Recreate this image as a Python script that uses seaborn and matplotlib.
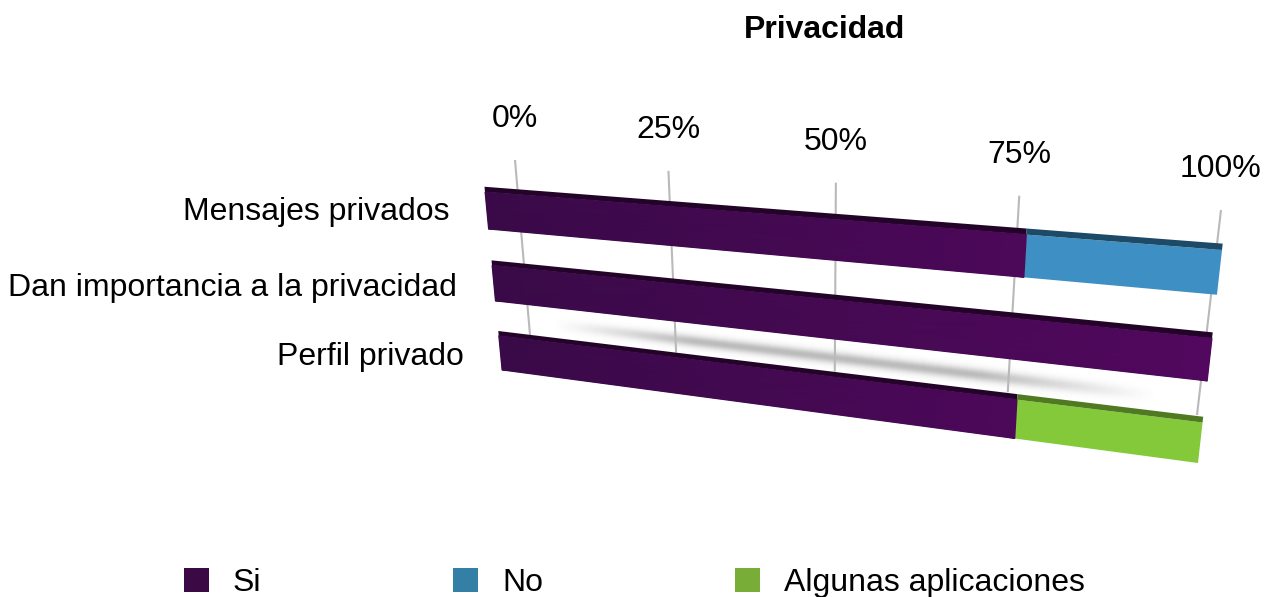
import numpy as np
import matplotlib
matplotlib.use('Agg')
import matplotlib.pyplot as plt
import seaborn as sns
from matplotlib.colors import LinearSegmentedColormap
from matplotlib.patches import Patch
from matplotlib.transforms import Transform

titulo = 'Privacidad'
categorias = ['Mensajes privados', 'Dan importancia a la privacidad', 'Perfil privado']
series = ['Si', 'No', 'Algunas aplicaciones']
si = np.array([77.3, 100, 77.3])
no = np.array([22.7, 0, 0])
algunas = np.array([0, 0, 22.7])
ticks = [0, 25, 50, 75, 100]
tick_labels = ['0%', '25%', '50%', '75%', '100%']

W, H = 1272, 597
FS = 23  # ~32 px
PX = 0.72  # pixeles a puntos


class Persp(Transform):
    # homografia: (x, y) de datos -> pixeles de pantalla
    input_dims = 2
    output_dims = 2

    def __init__(self, src, dst):
        super().__init__()
        A, b = [], []
        for (x, y), (u, v) in zip(src, dst):
            v = H - v
            A.append([x, y, 1, 0, 0, 0, -u * x, -u * y])
            A.append([0, 0, 0, x, y, 1, -v * x, -v * y])
            b += [u, v]
        self.m = np.append(np.linalg.solve(np.array(A, float), np.array(b, float)), 1).reshape(3, 3)

    def transform_non_affine(self, values):
        v = np.asarray(values, float)
        p = np.c_[v, np.ones(len(v))] @ self.m.T
        return p[:, :2] / p[:, 2:]


sns.set_theme(style='white')
plt.rcParams['font.family'] = ['Liberation Sans', 'DejaVu Sans']

fig = plt.figure(figsize=(W / 100, H / 100), dpi=100)
ax = fig.add_axes([0, 0, 1, 1])

# plano de las barras y plano de la rejilla
t_bar = Persp([(0, -0.25), (100, -0.25), (0, 2.25), (100, 2.25)],
              [(485, 192), (1222, 250), (502, 370), (1198, 463)])
t_wall = Persp([(0, 0), (100, 0), (0, 1), (100, 1)],
               [(515, 160), (1221, 210), (530, 335), (1197, 415)])

# barras apiladas
sns.barplot(x=si, y=categorias, order=categorias, orient='h', width=0.5, color='#470a58',
            saturation=1, errorbar=None, ax=ax, linewidth=0, zorder=5)
sns.barplot(x=no, y=categorias, order=categorias, orient='h', width=0.5, left=si, color='#3e8fc4',
            saturation=1, errorbar=None, ax=ax, linewidth=0, zorder=5)
sns.barplot(x=algunas, y=categorias, order=categorias, orient='h', width=0.5, left=si + no, color='#84c93a',
            saturation=1, errorbar=None, ax=ax, linewidth=0, zorder=5)

# cara superior oscura
pos = np.arange(len(categorias))
for vals, left, c in [(si, 0 * si, '#230428'), (no, si, '#1d4a66'), (algunas, si + no, '#4f7a22')]:
    ax.barh(pos - 0.285, vals, left=left, height=0.07, color=c, linewidth=0, zorder=5)

for p in ax.patches:
    p.set_transform(t_bar)
    p.set_clip_on(False)

# degradado del morado
cm_si = LinearSegmentedColormap.from_list('si', ['#3a0a48', '#52085f'])
for i, v in enumerate(si):
    X = np.array([0, v])
    ax.pcolormesh(X, [i - 0.25, i + 0.25], np.array([[0, v / 100], [0, v / 100]]), cmap=cm_si, vmin=0, vmax=1,
                  shading='gouraud', transform=t_bar, zorder=6, clip_on=False)

# sombra entre las barras 2 y 3
sx = np.linspace(10, 94, 120)
sy = np.linspace(1.25, 1.75, 40)
env = np.clip((sx - 10) / 22, 0, 1) * np.clip((94 - sx) / 22, 0, 1)
sombra = np.exp(-((sy - 1.5) / 0.075) ** 2)[:, None] * env[None, :]
cm_s = LinearSegmentedColormap.from_list('s', ['#ffffff', '#bcbcbc'])
ax.pcolormesh(sx, sy, sombra, cmap=cm_s, vmin=0, vmax=1, shading='gouraud', transform=t_bar, zorder=1, clip_on=False)

# rejilla
ax.vlines(ticks, 0, 1, colors='#b9b9b9', linewidth=1.5, transform=t_wall, zorder=2, clip_on=False)

# etiquetas de los ejes
for t, lab in zip(ticks, tick_labels):
    ax.annotate(lab, xy=(t, 0), xycoords=t_wall, xytext=(0, 41 * PX), textcoords='offset points',
                ha='center', va='center', fontsize=FS, color='black', annotation_clip=False)
for cat, dy, i in zip(categorias, [-1, -5, -4], pos):
    ax.annotate(cat, xy=(0, i), xycoords=t_bar, xytext=(-37 * PX, dy * PX), textcoords='offset points',
                ha='right', va='center', fontsize=FS, color='black', annotation_clip=False)

fig.text(824 / W, 1 - 30 / H, titulo, fontsize=FS, fontweight='bold', ha='center', va='center', color='black')

colores_leyenda = ['#3b0a45', '#347fa6', '#78ae38']
handles = [Patch(facecolor=c, edgecolor='none', label=s) for c, s in zip(colores_leyenda, series)]
fig.legend(handles=handles, ncols=3, loc='center left', bbox_to_anchor=(184 / W, 1 - 583 / H),
           frameon=False, fontsize=FS, borderpad=0, borderaxespad=0, handlelength=25 / 32, handleheight=25 / 32,
           handletextpad=24 / 32, columnspacing=192 / 32, labelcolor='black')

ax.set_xlim(0, 100)
ax.set_ylim(2.5, -0.5)
ax.set_axis_off()

plt.savefig('out.png', dpi=100)
